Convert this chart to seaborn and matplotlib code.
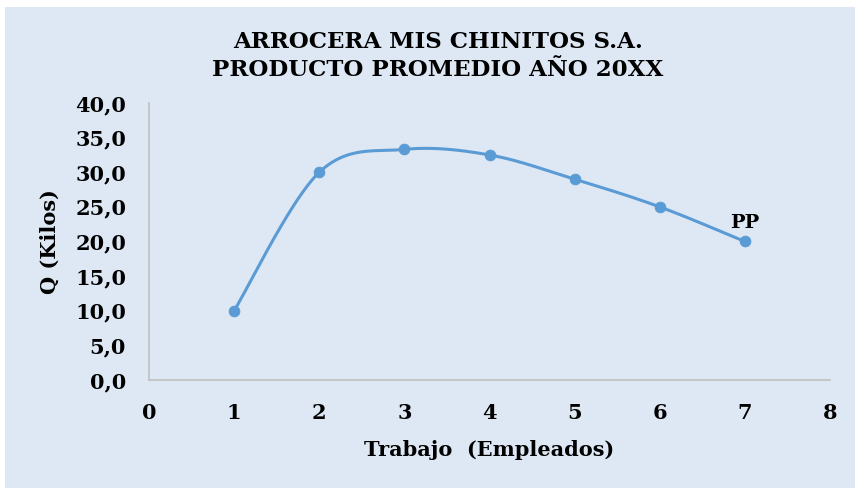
import numpy as np
import pandas as pd
import matplotlib
matplotlib.use("Agg")
import matplotlib.pyplot as plt
from matplotlib.patches import Rectangle
from matplotlib.ticker import FuncFormatter
import seaborn as sns

# Average product per number of workers
trabajo = [1, 2, 3, 4, 5, 6, 7]
producto_promedio = [10.0, 30.0, 33.3, 32.5, 29.0, 25.0, 20.0]
x_ticks = [0, 1, 2, 3, 4, 5, 6, 7, 8]
y_ticks = [0, 5, 10, 15, 20, 25, 30, 35, 40]

BG = "#dee8f4"
LINE = "#5b9bd5"
FONT = ["DejaVu Serif", "Liberation Serif"]

sns.set_theme(style="white")
plt.rcParams["font.family"] = FONT
plt.rcParams["text.color"] = "black"
plt.rcParams["axes.labelcolor"] = "black"
plt.rcParams["xtick.color"] = "black"
plt.rcParams["ytick.color"] = "black"


def smooth_curve(xs, ys, steps=40):
    """Catmull-Rom style Bezier smoothing through every point."""
    xs = np.asarray(xs, float)
    ys = np.asarray(ys, float)
    px = np.concatenate([[xs[0]], xs, [xs[-1]]])
    py = np.concatenate([[ys[0]], ys, [ys[-1]]])
    out_x, out_y = [], []
    t = np.linspace(0, 1, steps)
    for i in range(1, len(px) - 2):
        p0 = np.array([px[i], py[i]])
        p3 = np.array([px[i + 1], py[i + 1]])
        p1 = p0 + (np.array([px[i + 1], py[i + 1]]) - np.array([px[i - 1], py[i - 1]])) / 6
        p2 = p3 - (np.array([px[i + 2], py[i + 2]]) - np.array([px[i], py[i]])) / 6
        b = ((1 - t) ** 3)[:, None] * p0 + (3 * (1 - t) ** 2 * t)[:, None] * p1 \
            + (3 * (1 - t) * t ** 2)[:, None] * p2 + (t ** 3)[:, None] * p3
        out_x.extend(b[:, 0])
        out_y.extend(b[:, 1])
    return np.array(out_x), np.array(out_y)


fig = plt.figure(figsize=(8.55, 4.88), dpi=100, facecolor="white")
fig.patches.append(Rectangle((5 / 855, 0), 1, 1 - 7 / 488, transform=fig.transFigure,
                             facecolor=BG, edgecolor="none", zorder=-10))

ax = fig.add_axes([149 / 855, 1 - 380 / 488, 681 / 855, 277 / 488])
ax.set_facecolor(BG)

sx, sy = smooth_curve(trabajo, producto_promedio)
curve = pd.DataFrame({"x": sx, "y": sy})
pts = pd.DataFrame({"Trabajo": trabajo, "PP": producto_promedio})

sns.lineplot(data=curve, x="x", y="y", ax=ax, color=LINE, linewidth=2.2,
             sort=False, estimator=None)
sns.scatterplot(data=pts, x="Trabajo", y="PP", ax=ax, color=LINE, s=60,
                edgecolor=LINE, zorder=3)

ax.annotate("PP", (trabajo[-1], producto_promedio[-1]), xytext=(0, 9.5),
            textcoords="offset points", ha="center", va="baseline",
            fontsize=14, fontweight="bold", color="black")

ax.set_xlim(0, 8)
ax.set_ylim(0, 40)
ax.set_xticks(x_ticks)
ax.set_yticks(y_ticks)
ax.yaxis.set_major_formatter(FuncFormatter(lambda v, p: f"{v:.1f}".replace(".", ",")))
ax.tick_params(axis="y", labelsize=15, length=0, pad=16.5, labelcolor="black")
ax.tick_params(axis="x", labelsize=15, length=0, pad=16.5, labelcolor="black")
for lab in ax.get_xticklabels() + ax.get_yticklabels():
    lab.set_fontweight("bold")

for side in ["top", "right"]:
    ax.spines[side].set_visible(False)
for side in ["left", "bottom"]:
    ax.spines[side].set_color("#c0c0c0")
    ax.spines[side].set_linewidth(1.2)

ax.set_xlabel("Trabajo  (Empleados)", fontsize=15, fontweight="bold", labelpad=12,
              color="black")
ax.set_ylabel("Q (Kilos)", fontsize=15, fontweight="bold", labelpad=11, color="black")

fig.text(438 / 855, 1 - 56 / 488, "ARROCERA MIS CHINITOS S.A.\nPRODUCTO PROMEDIO AÑO 20XX",
         ha="center", va="center", fontsize=16.5, fontweight="bold",
         linespacing=1.3, color="black")

fig.savefig("out.png", dpi=100, facecolor="white")
